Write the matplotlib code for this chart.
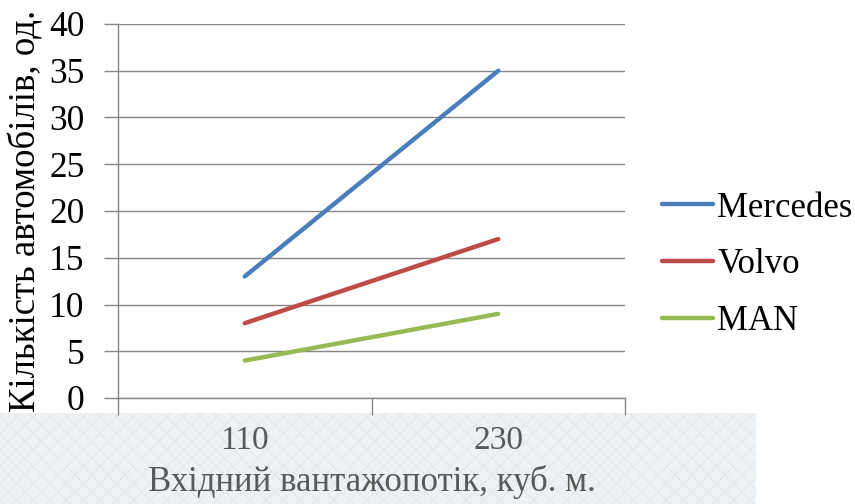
import matplotlib
matplotlib.use("Agg")
import matplotlib.pyplot as plt
from matplotlib.patches import Rectangle
from matplotlib.ticker import FixedLocator, NullFormatter

categories = ["110", "230"]
series_names = ["Mercedes", "Volvo", "MAN"]
mercedes = [13, 35]
volvo = [8, 17]
man = [4, 9]
y_ticks = [0, 5, 10, 15, 20, 25, 30, 35, 40]

colors = ["#4a7ebb", "#be4b48", "#98b954"]
plt.rcParams['font.family'] = ['Liberation Serif', 'DejaVu Serif']

fig = plt.figure(figsize=(8.55, 5.04), dpi=100)
# patterned background strip at bottom
fig.patches.append(Rectangle((0, 0), 756/855, 1 - 413/504, transform=fig.transFigure,
                             facecolor="#eef2f5", edgecolor="#e3e9ed", hatch="xx",
                             linewidth=0, zorder=-10))
ax = fig.add_axes([118/855, 1 - 398/504, (625-118)/855, (398-24)/504])
ax.set_facecolor("none")

x = list(range(len(categories)))
for name, vals, c in zip(series_names, [mercedes, volvo, man], colors):
    ax.plot(x, vals, color=c, lw=3.2, solid_capstyle="round", label=name)

ax.set_xlim(-0.5, len(categories) - 0.5)
ax.set_ylim(0, 40)
ax.set_yticks(y_ticks)
ax.set_xticks(x)
ax.set_xticklabels(categories)
ax.xaxis.set_minor_locator(FixedLocator([i - 0.5 for i in range(len(categories) + 1)]))
ax.xaxis.set_minor_formatter(NullFormatter())
ax.tick_params(axis="x", which="major", length=0, pad=20, labelsize=24, labelcolor="#595959")
ax.tick_params(axis="x", which="minor", length=12, width=1, color="#868686")
ax.tick_params(axis="y", length=10, width=1, color="#868686", labelsize=25.5, pad=14)

ax.grid(axis="y", color="#868686", lw=1)
for s in ["top", "right"]:
    ax.spines[s].set_visible(False)
for s in ["left", "bottom"]:
    ax.spines[s].set_color("#868686")
    ax.spines[s].set_linewidth(1)

ax.set_xlabel("Вхідний вантажопотік, куб. м.", fontsize=25, color="#595959", labelpad=6)
ax.set_ylabel("Кількість автомобілів, од.", fontsize=26.5, color="black", labelpad=4)

leg = ax.legend(loc="center left", bbox_to_anchor=(662/855, 1 - 265/504),
                bbox_transform=fig.transFigure, frameon=False, fontsize=25,
                borderpad=0, borderaxespad=0,
                handlelength=1.47, handletextpad=0.12, labelspacing=0.69)

fig.savefig("out.png", dpi=100)
